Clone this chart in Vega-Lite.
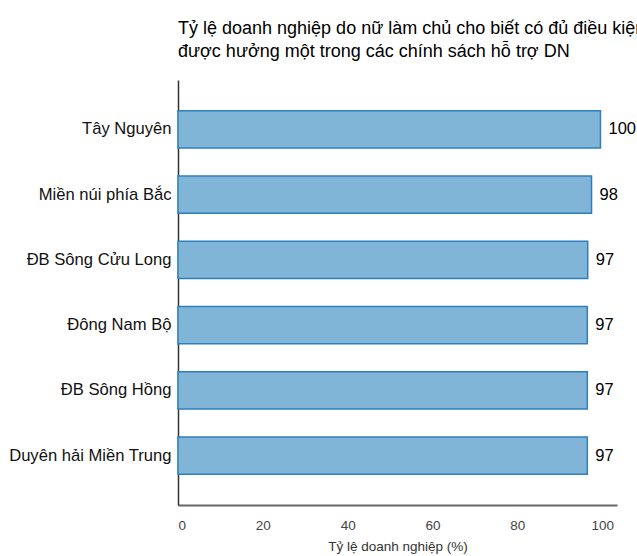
{
  "$schema": "https://vega.github.io/schema/vega-lite/v6.json",
  "autosize": "none",
  "width": 439,
  "height": 425,
  "padding": {"left": 178, "top": 80, "right": 20, "bottom": 51},
  "background": "white",
  "config": {
    "font": "Liberation Sans",
    "view": {"stroke": null}
  },
  "title": {
    "text": ["Tỷ lệ doanh nghiệp do nữ làm chủ cho biết có đủ điều kiện", "được hưởng một trong các chính sách hỗ trợ DN"],
    "anchor": "start",
    "frame": "group",
    "fontSize": 18,
    "fontWeight": "normal",
    "color": "#000000",
    "lineHeight": 23,
    "offset": 19
  },
  "data": {
    "values": [
      {"region": "Tây Nguyên", "value": 99.6},
      {"region": "Miền núi phía Bắc", "value": 97.5},
      {"region": "ĐB Sông Cửu Long", "value": 96.6},
      {"region": "Đông Nam Bộ", "value": 96.5},
      {"region": "ĐB Sông Hồng", "value": 96.5},
      {"region": "Duyên hải Miền Trung", "value": 96.5}
    ]
  },
  "encoding": {
    "y": {
      "field": "region",
      "type": "nominal",
      "sort": null,
      "scale": {"paddingInner": 0.43, "paddingOuter": 0.47},
      "axis": {
        "title": null,
        "ticks": false,
        "labelFontSize": 16.6,
        "labelColor": "#111111",
        "labelPadding": 7,
        "domainColor": "#333333",
        "domainWidth": 1.5,
        "grid": false
      }
    },
    "x": {
      "field": "value",
      "type": "quantitative",
      "scale": {"domain": [0, 103.5], "nice": false, "zero": true},
      "axis": {
        "title": "Tỷ lệ doanh nghiệp (%)",
        "titleFontSize": 13.5,
        "titleFontWeight": "normal",
        "titleColor": "#333333",
        "titlePadding": 8,
        "values": [0, 20, 40, 60, 80, 100],
        "ticks": false,
        "grid": false,
        "labelFontSize": 13.5,
        "labelColor": "#444444",
        "labelPadding": 13,
        "domainColor": "#666666",
        "domainWidth": 2
      }
    }
  },
  "layer": [
    {
      "mark": {"type": "bar", "fill": "#80b5d8", "stroke": "#2f7fbd", "strokeWidth": 1.5}
    },
    {
      "mark": {"type": "text", "align": "left", "baseline": "middle", "dx": 8, "fontSize": 16.5, "color": "#000000"},
      "encoding": {
        "text": {"field": "value", "type": "quantitative", "format": ".0f"}
      }
    }
  ]
}
